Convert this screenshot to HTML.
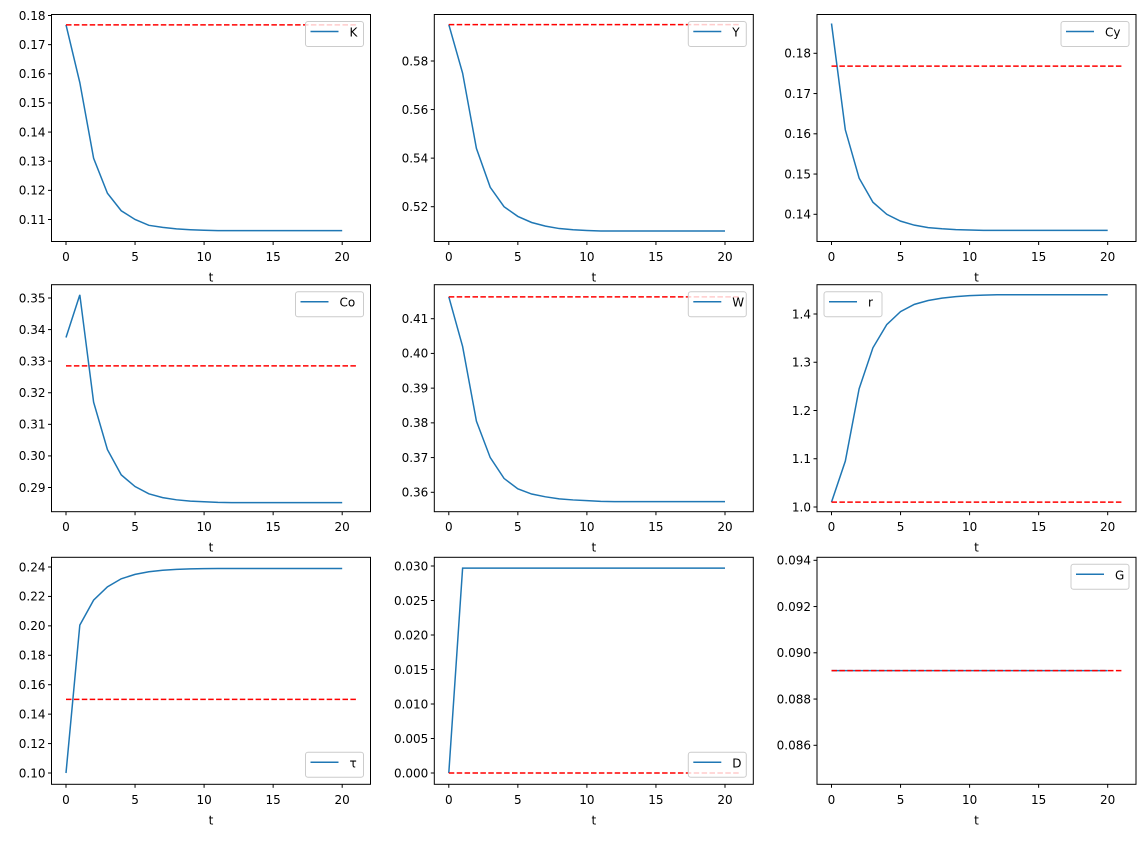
<!DOCTYPE html>
<html><head><meta charset="utf-8"><style>
body{margin:0;background:#fff;width:1145px;height:837px;overflow:hidden}
svg text{font-family:"DejaVu Sans","Liberation Sans",sans-serif;font-size:12px;fill:#000}
</style></head><body>
<svg id="s" width="1145" height="837" xmlns="http://www.w3.org/2000/svg"></svg>
<script>
const cols=[51.5,434.3,817],rows=[14.5,284.7,557.3],W=319,H=227;
function tail(arr,last,n){while(arr.length<n)arr.push(last);return arr;}
const P=[
{n:'K',y1:[0.18,15.5],y2:[0.11,219.5],d:tail([0.1768,0.157,0.131,0.119,0.113,0.110,0.108,0.1073,0.1068,0.1065,0.1063],0.1062,21),red:0.1768,ticks:[0.11,0.12,0.13,0.14,0.15,0.16,0.17,0.18],f:2,leg:'ur'},
{n:'Y',y1:[0.58,61],y2:[0.52,206.7],d:tail([0.595,0.575,0.544,0.528,0.520,0.516,0.5135,0.512,0.511,0.5105,0.5102],0.510,21),red:0.595,ticks:[0.52,0.54,0.56,0.58],f:2,leg:'ur'},
{n:'Cy',y1:[0.18,53.3],y2:[0.14,214.3],d:tail([0.1874,0.161,0.149,0.143,0.140,0.1383,0.1373,0.1367,0.1364,0.1362,0.1361],0.1360,21),red:0.1768,ticks:[0.14,0.15,0.16,0.17,0.18],f:2,leg:'ur'},
{n:'Co',y1:[0.35,298],y2:[0.29,487.5],d:tail([0.3375,0.351,0.317,0.302,0.294,0.2903,0.288,0.2868,0.2861,0.2857,0.2855,0.2853],0.2852,21),red:0.3285,ticks:[0.29,0.30,0.31,0.32,0.33,0.34,0.35],f:2,leg:'ur'},
{n:'W',y1:[0.41,318.7],y2:[0.36,492.3],d:tail([0.4163,0.402,0.3805,0.370,0.364,0.361,0.3595,0.3587,0.3581,0.3578,0.3576,0.3574],0.3573,21),red:0.4163,ticks:[0.36,0.37,0.38,0.39,0.40,0.41],f:2,leg:'ur'},
{n:'r',y1:[1.4,314],y2:[1.0,507],d:tail([1.01,1.095,1.245,1.33,1.378,1.405,1.42,1.428,1.433,1.436,1.438,1.439],1.44,21),red:1.01,ticks:[1.0,1.1,1.2,1.3,1.4],f:1,leg:'ul'},
{n:'τ',y1:[0.24,567],y2:[0.10,773],d:tail([0.10,0.2005,0.2175,0.2265,0.232,0.235,0.2368,0.2378,0.2384,0.2387,0.2389],0.239,21),red:0.15,ticks:[0.10,0.12,0.14,0.16,0.18,0.20,0.22,0.24],f:2,leg:'lr'},
{n:'D',y1:[0.030,566],y2:[0,773],d:tail([0,0.0297],0.0297,21),red:0,ticks:[0,0.005,0.01,0.015,0.02,0.025,0.03],f:3,leg:'lr'},
{n:'G',y1:[0.094,560.3],y2:[0.086,745.3],d:tail([],0.08923,21),red:0.08923,ticks:[0.086,0.088,0.090,0.092,0.094],f:3,leg:'ur'}
];
let o='';
P.forEach((p,i)=>{
 const L=cols[i%3],T=rows[Math.floor(i/3)];
 const X=t=>L+W*(t+1.05)/23.1;
 const Y=v=>p.y1[1]+(v-p.y1[0])*(p.y2[1]-p.y1[1])/(p.y2[0]-p.y1[0]);
 const id='c'+i;
 o+=`<clipPath id="${id}"><rect x="${L}" y="${T}" width="${W}" height="${H}"/></clipPath>`;
 o+=`<g clip-path="url(#${id})"><polyline fill="none" stroke="#1f77b4" stroke-width="1.5" points="${p.d.map((v,t)=>X(t)+','+Y(v)).join(' ')}"/>`;
 o+=`<line x1="${X(0)}" x2="${X(21)}" y1="${Y(p.red)}" y2="${Y(p.red)}" stroke="red" stroke-width="1.5" stroke-dasharray="5.5,2.4"/></g>`;
 o+=`<rect x="${L}" y="${T}" width="${W}" height="${H}" fill="none" stroke="#000" stroke-width="1"/>`;
 [0,5,10,15,20].forEach(t=>{const x=X(t);o+=`<line x1="${x}" x2="${x}" y1="${T+H}" y2="${T+H+3.5}" stroke="#000"/><text x="${x}" y="${T+H+19.5}" text-anchor="middle">${t}</text>`;});
 o+=`<text x="${L+W/2}" y="${T+H+40}" text-anchor="middle">t</text>`;
 p.ticks.forEach(v=>{const y=Y(v);o+=`<line x1="${L-3.5}" x2="${L}" y1="${y}" y2="${y}" stroke="#000"/><text x="${L-6}" y="${y+4.3}" text-anchor="end">${v.toFixed(p.f)}</text>`;});
 const lw=p.n.length>1?68:58,lh=25;
 let lx=p.leg=='ul'?L+7:L+W-lw-7, ly=p.leg=='lr'?T+H-lh-7:T+7;
 o+=`<rect x="${lx}" y="${ly}" width="${lw}" height="${lh}" rx="2.5" fill="#fff" fill-opacity="0.8" stroke="#ccc"/>`;
 o+=`<line x1="${lx+5}" x2="${lx+33}" y1="${ly+10}" y2="${ly+10}" stroke="#1f77b4" stroke-width="1.5"/>`;
 o+=`<text x="${lx+44}" y="${ly+15}">${p.n}</text>`;
});
document.getElementById('s').innerHTML=o;
</script>
</body></html>
